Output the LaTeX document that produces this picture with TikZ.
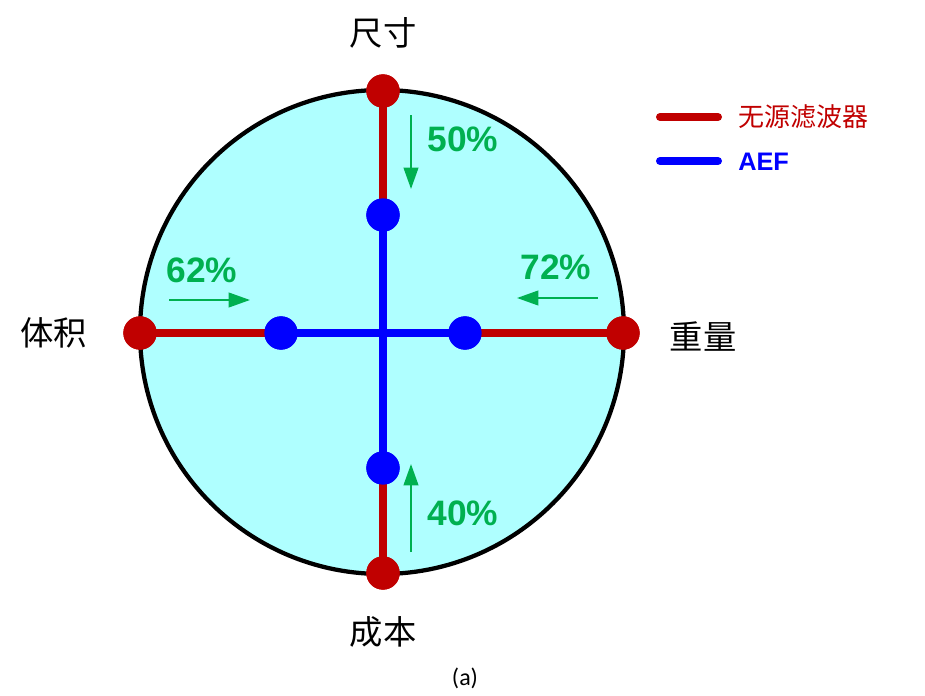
\documentclass[tikz,border=0pt]{standalone}
\usepackage{fontspec}
\setmainfont{Liberation Sans}
\newfontfamily\cjk{Noto Sans CJK SC}
\newfontfamily\capfont{Carlito}
\usetikzlibrary{arrows.meta}
\definecolor{cyanfill}{RGB}{175,255,255}
\definecolor{redc}{RGB}{192,0,0}
\definecolor{bluec}{RGB}{0,0,255}
\definecolor{greenc}{RGB}{0,176,80}
\tikzset{
  redline/.style={draw=redc,line width=6pt},
  blueline/.style={draw=bluec,line width=6pt},
  legline/.style={line width=6pt,line cap=round},
  reddot/.style={circle,fill=redc,minimum size=25pt,inner sep=0pt},
  bluedot/.style={circle,fill=bluec,minimum size=25pt,inner sep=0pt},
  garrow/.style={draw=greenc,line width=1.5pt,-{Triangle[length=16pt,width=11pt]}},
  pct/.style={text=greenc,font=\fontsize{26.5}{30}\selectfont\bfseries,inner sep=0pt},
  axlabel/.style={font=\cjk\fontsize{25}{30}\selectfont,inner sep=0pt},
}
\begin{document}
\begin{tikzpicture}[x=0.75pt,y=-0.75pt]
\useasboundingbox (0,0) rectangle (925,696);
% circle
\node[circle,draw=black,line width=3.2pt,fill=cyanfill,minimum size=363pt,inner sep=0pt] (disc) at (382,332) {};
% dots
\node[reddot] (rt) at (383,91) {};
\node[reddot] (rl) at (140,333) {};
\node[reddot] (rr) at (623,333) {};
\node[reddot] (rb) at (383,573) {};
\node[bluedot] (bt) at (383,215) {};
\node[bluedot] (bl) at (281,333) {};
\node[bluedot] (br) at (465,333) {};
\node[bluedot] (bb) at (383,468) {};
% lines
\draw[redline] (rt.center) -- (bt.center);
\draw[redline] (rb.center) -- (bb.center);
\draw[redline] (rl.center) -- (bl.center);
\draw[redline] (rr.center) -- (br.center);
\draw[blueline] (bt.center) -- (bb.center);
\draw[blueline] (bl.center) -- (br.center);
% redraw dots on top
\node[reddot] at (rt) {};
\node[reddot] at (rl) {};
\node[reddot] at (rr) {};
\node[reddot] at (rb) {};
\node[bluedot] at (bt) {};
\node[bluedot] at (bl) {};
\node[bluedot] at (br) {};
\node[bluedot] at (bb) {};
% green arrows
\coordinate (a1s) at (411,115); \coordinate (a1e) at (411,189);
\coordinate (a2s) at (169,300); \coordinate (a2e) at (250,300);
\coordinate (a3s) at (598,298); \coordinate (a3e) at (517,298);
\coordinate (a4s) at (411,552); \coordinate (a4e) at (411,464);
\draw[garrow] (a1s) -- (a1e);
\draw[garrow] (a2s) -- (a2e);
\draw[garrow] (a3s) -- (a3e);
\draw[garrow] (a4s) -- (a4e);
\node[pct] (p50) at (463,139) {50\%};
\node[pct] (p62) at (202,270) {62\%};
\node[pct] (p72) at (556,267) {72\%};
\node[pct] (p40) at (463,513) {40\%};
% axis labels
\node[axlabel] (size) at (383,33) {尺寸};
\node[axlabel] (vol) at (54,333) {体积};
\node[axlabel] (wt) at (703,337) {重量};
\node[axlabel] (cost) at (383,632) {成本};
% legend
\coordinate (l1a) at (660,117); \coordinate (l1b) at (718,117);
\coordinate (l2a) at (660,161); \coordinate (l2b) at (718,161);
\draw[legline,draw=redc] (l1a) -- (l1b);
\draw[legline,draw=bluec] (l2a) -- (l2b);
\node[anchor=west,text=redc,font=\cjk\fontsize{19.5}{22}\selectfont,inner sep=0pt] (leg1) at (738,117) {无源滤波器};
\node[anchor=west,text=bluec,font=\fontsize{19}{22}\selectfont\bfseries,inner sep=0pt] (leg2) at (738,162) {AEF};
% caption
\node[font=\capfont\fontsize{18}{20}\selectfont,inner sep=0pt] (cap) at (465,678) {(a)};
\end{tikzpicture}
\end{document}
